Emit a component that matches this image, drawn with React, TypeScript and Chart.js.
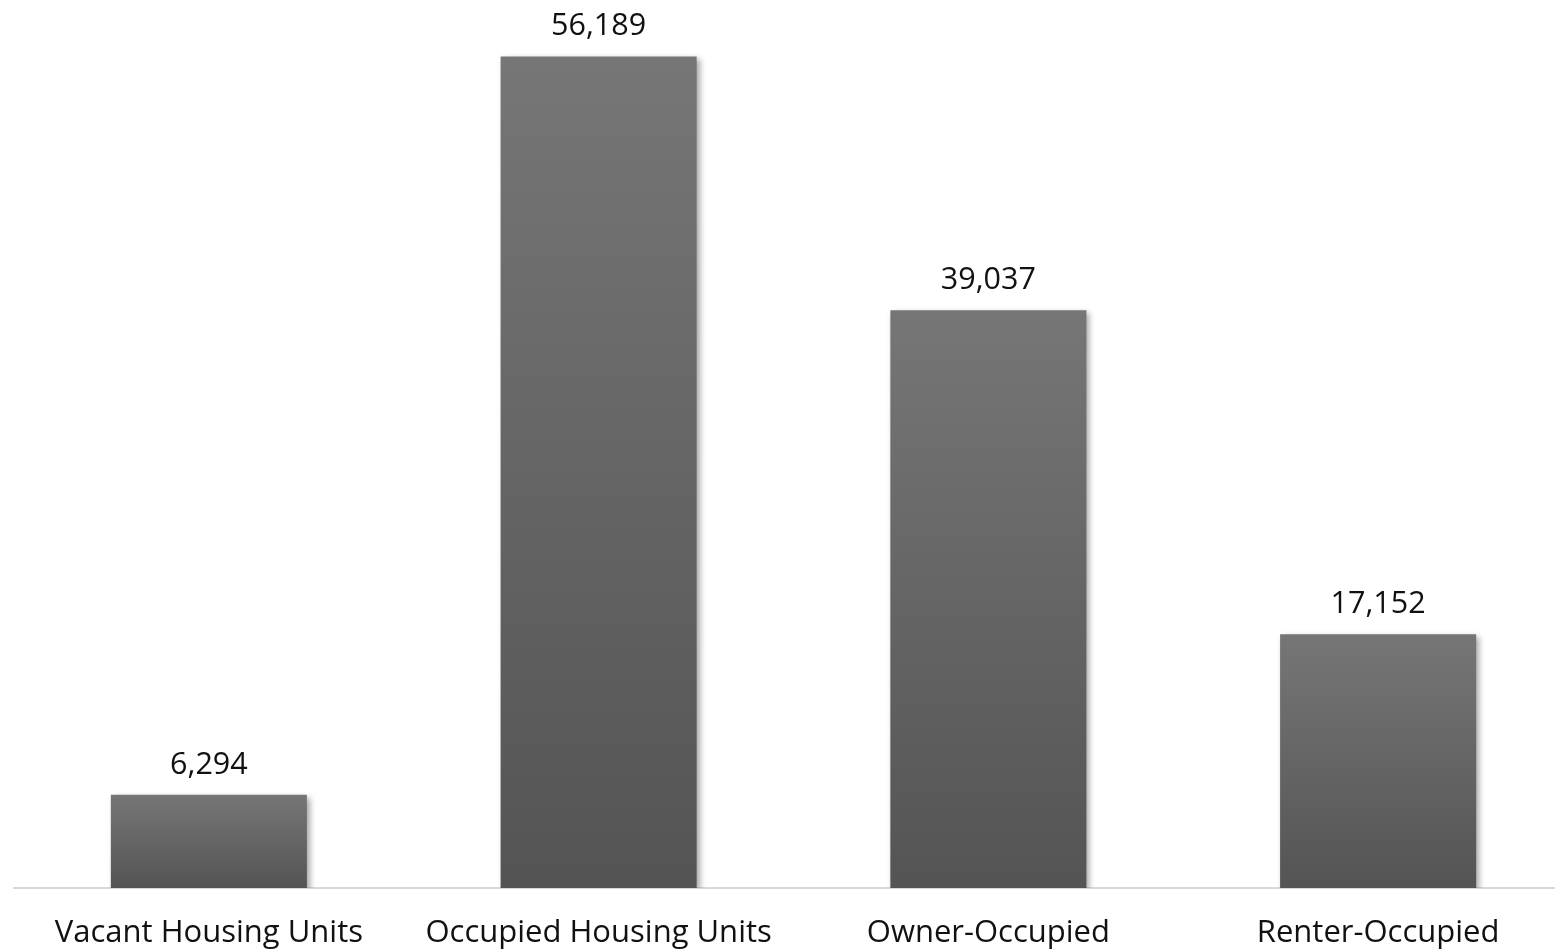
import React, { useEffect, useRef } from "react";
import { Chart, registerables } from "chart.js";

Chart.register(...registerables);

// Housing unit counts by occupancy status
const categories: string[] = [
  "Vacant Housing Units",
  "Occupied Housing Units",
  "Owner-Occupied",
  "Renter-Occupied",
];
const housingUnits: number[] = [6294, 56189, 39037, 17152];

const FONT = "'Open Sans', Lato, sans-serif";

// Soft drop shadow to the lower right of each bar
const barShadow = {
  id: "barShadow",
  beforeDatasetsDraw(chart: any) {
    const ctx = chart.ctx;
    ctx.save();
    ctx.shadowColor = "rgba(0,0,0,0.35)";
    ctx.shadowBlur = 6;
    ctx.shadowOffsetX = 3;
    ctx.shadowOffsetY = 3;
  },
  afterDatasetsDraw(chart: any) {
    chart.ctx.restore();
  },
};

// Value text above each bar
const valueLabels = {
  id: "valueLabels",
  afterDraw(chart: any) {
    const ctx = chart.ctx;
    const meta = chart.getDatasetMeta(0);
    const data = chart.data.datasets[0].data as number[];
    ctx.save();
    ctx.fillStyle = "#111111";
    ctx.font = `30.5px ${FONT}`;
    ctx.textAlign = "center";
    ctx.textBaseline = "alphabetic";
    meta.data.forEach((bar: any, i: number) => {
      ctx.fillText(data[i].toLocaleString("en-US"), bar.x, bar.y - 21);
    });
    ctx.restore();
  },
};

export default function App() {
  const canvasRef = useRef<HTMLCanvasElement | null>(null);

  useEffect(() => {
    document.body.style.margin = "0";
    const canvas = canvasRef.current;
    if (!canvas) return;
    const chart = new Chart(canvas, {
      type: "bar",
      data: {
        labels: categories,
        datasets: [
          {
            data: housingUnits,
            backgroundColor: (context: any) => {
              const c = context.chart;
              const y = c.scales?.y;
              if (!c.chartArea || !y || !context.parsed) return "#5f5f5f";
              const top = y.getPixelForValue(context.parsed.y);
              const bottom = y.getPixelForValue(0);
              if (!isFinite(top) || !isFinite(bottom) || top === bottom) return "#5f5f5f";
              const g = c.ctx.createLinearGradient(0, top, 0, bottom);
              g.addColorStop(0, "#767676");
              g.addColorStop(1, "#545454");
              return g;
            },
            borderWidth: 0,
            barPercentage: 0.503,
            categoryPercentage: 1,
          },
        ],
      },
      options: {
        responsive: false,
        animation: false,
        events: [],
        layout: { padding: { left: 14, right: 2, top: 0, bottom: 0 } },
        plugins: {
          legend: { display: false },
          tooltip: { enabled: false },
        },
        scales: {
          y: {
            display: false,
            min: 0,
            max: 60000,
          },
          x: {
            grid: { display: false, drawTicks: false },
            border: { display: true, color: "#d9d9d9", width: 2 },
            ticks: {
              color: "#111111",
              font: { family: FONT, size: 31 },
              padding: 27,
              maxRotation: 0,
              autoSkip: false,
            },
            afterFit(scale: any) {
              scale.height = 62;
            },
          },
        },
      },
      plugins: [barShadow, valueLabels],
    });
    return () => chart.destroy();
  }, []);

  return (
    <div style={{ position: "relative", width: 1555, height: 950, overflow: "hidden", background: "#ffffff" }}>
      <canvas
        ref={canvasRef}
        width={1575}
        height={950}
        style={{ position: "absolute", left: 0, top: 0, width: 1575, height: 950 }}
      />
    </div>
  );
}
